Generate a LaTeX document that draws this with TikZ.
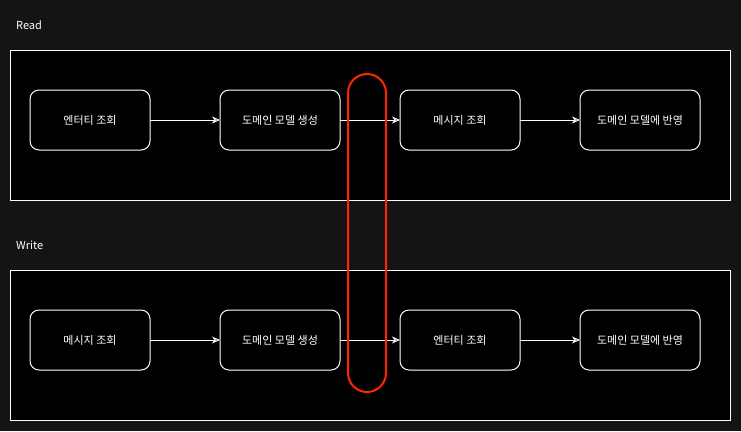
\documentclass[tikz,border=0pt]{standalone}
\usepackage{fontspec}
\setmainfont{Noto Sans CJK KR}
\usetikzlibrary{positioning,arrows.meta}
\definecolor{canvas}{RGB}{20,20,20}
\definecolor{capsule}{RGB}{255,38,0}

\begin{document}
\begin{tikzpicture}[%
    x=1pt, y=-1pt,
    >={Stealth[length=8pt,width=7pt,inset=2.5pt]},
    node distance=60pt,
    every node/.style={font=\fontsize{11}{13}\selectfont, text=white},
    frame/.style={draw=white, fill=black, line width=1pt, minimum width=720pt, minimum height=150pt, inner sep=0pt},
    task/.style={draw=white, fill=black, line width=1pt, rounded corners=9pt, minimum width=120pt, minimum height=60pt, inner sep=0pt, outer sep=0pt},
    heading/.style={anchor=west, inner sep=0pt},
    splitter/.style={draw=capsule, line width=2pt, rounded corners=19pt, minimum width=38pt, minimum height=318pt, inner sep=0pt}
  ]
    % background
    \fill[canvas] (0,0) rectangle (741,431);
    \useasboundingbox (0,0) rectangle (741,431);

    % read flow
    \node[heading] (readlbl) at (16,25) {Read};
    \node[frame] (readbox) at (370,125) {};
    \node[task] (r1) at (90,120) {엔터티 조회};
    \node[task] (r2) [right=70pt of r1] {도메인 모델 생성};
    \node[task] (r3) [right=of r2] {메시지 조회};
    \node[task] (r4) [right=of r3] {도메인 모델에 반영};

    % write flow
    \node[heading] (writelbl) at (16,245) {Write};
    \node[frame] (writebox) at (370,345) {};
    \node[task] (w1) at (90,340) {메시지 조회};
    \node[task] (w2) [right=70pt of w1] {도메인 모델 생성};
    \node[task] (w3) [right=of w2] {엔터티 조회};
    \node[task] (w4) [right=of w3] {도메인 모델에 반영};

    \path[->, draw=white, line width=1pt]
      (r1) edge (r2)
      (r2) edge (r3)
      (r3) edge (r4)
      (w1) edge (w2)
      (w2) edge (w3)
      (w3) edge (w4);

    \node[splitter] (gap) at (367,233) {};
\end{tikzpicture}
\end{document}
